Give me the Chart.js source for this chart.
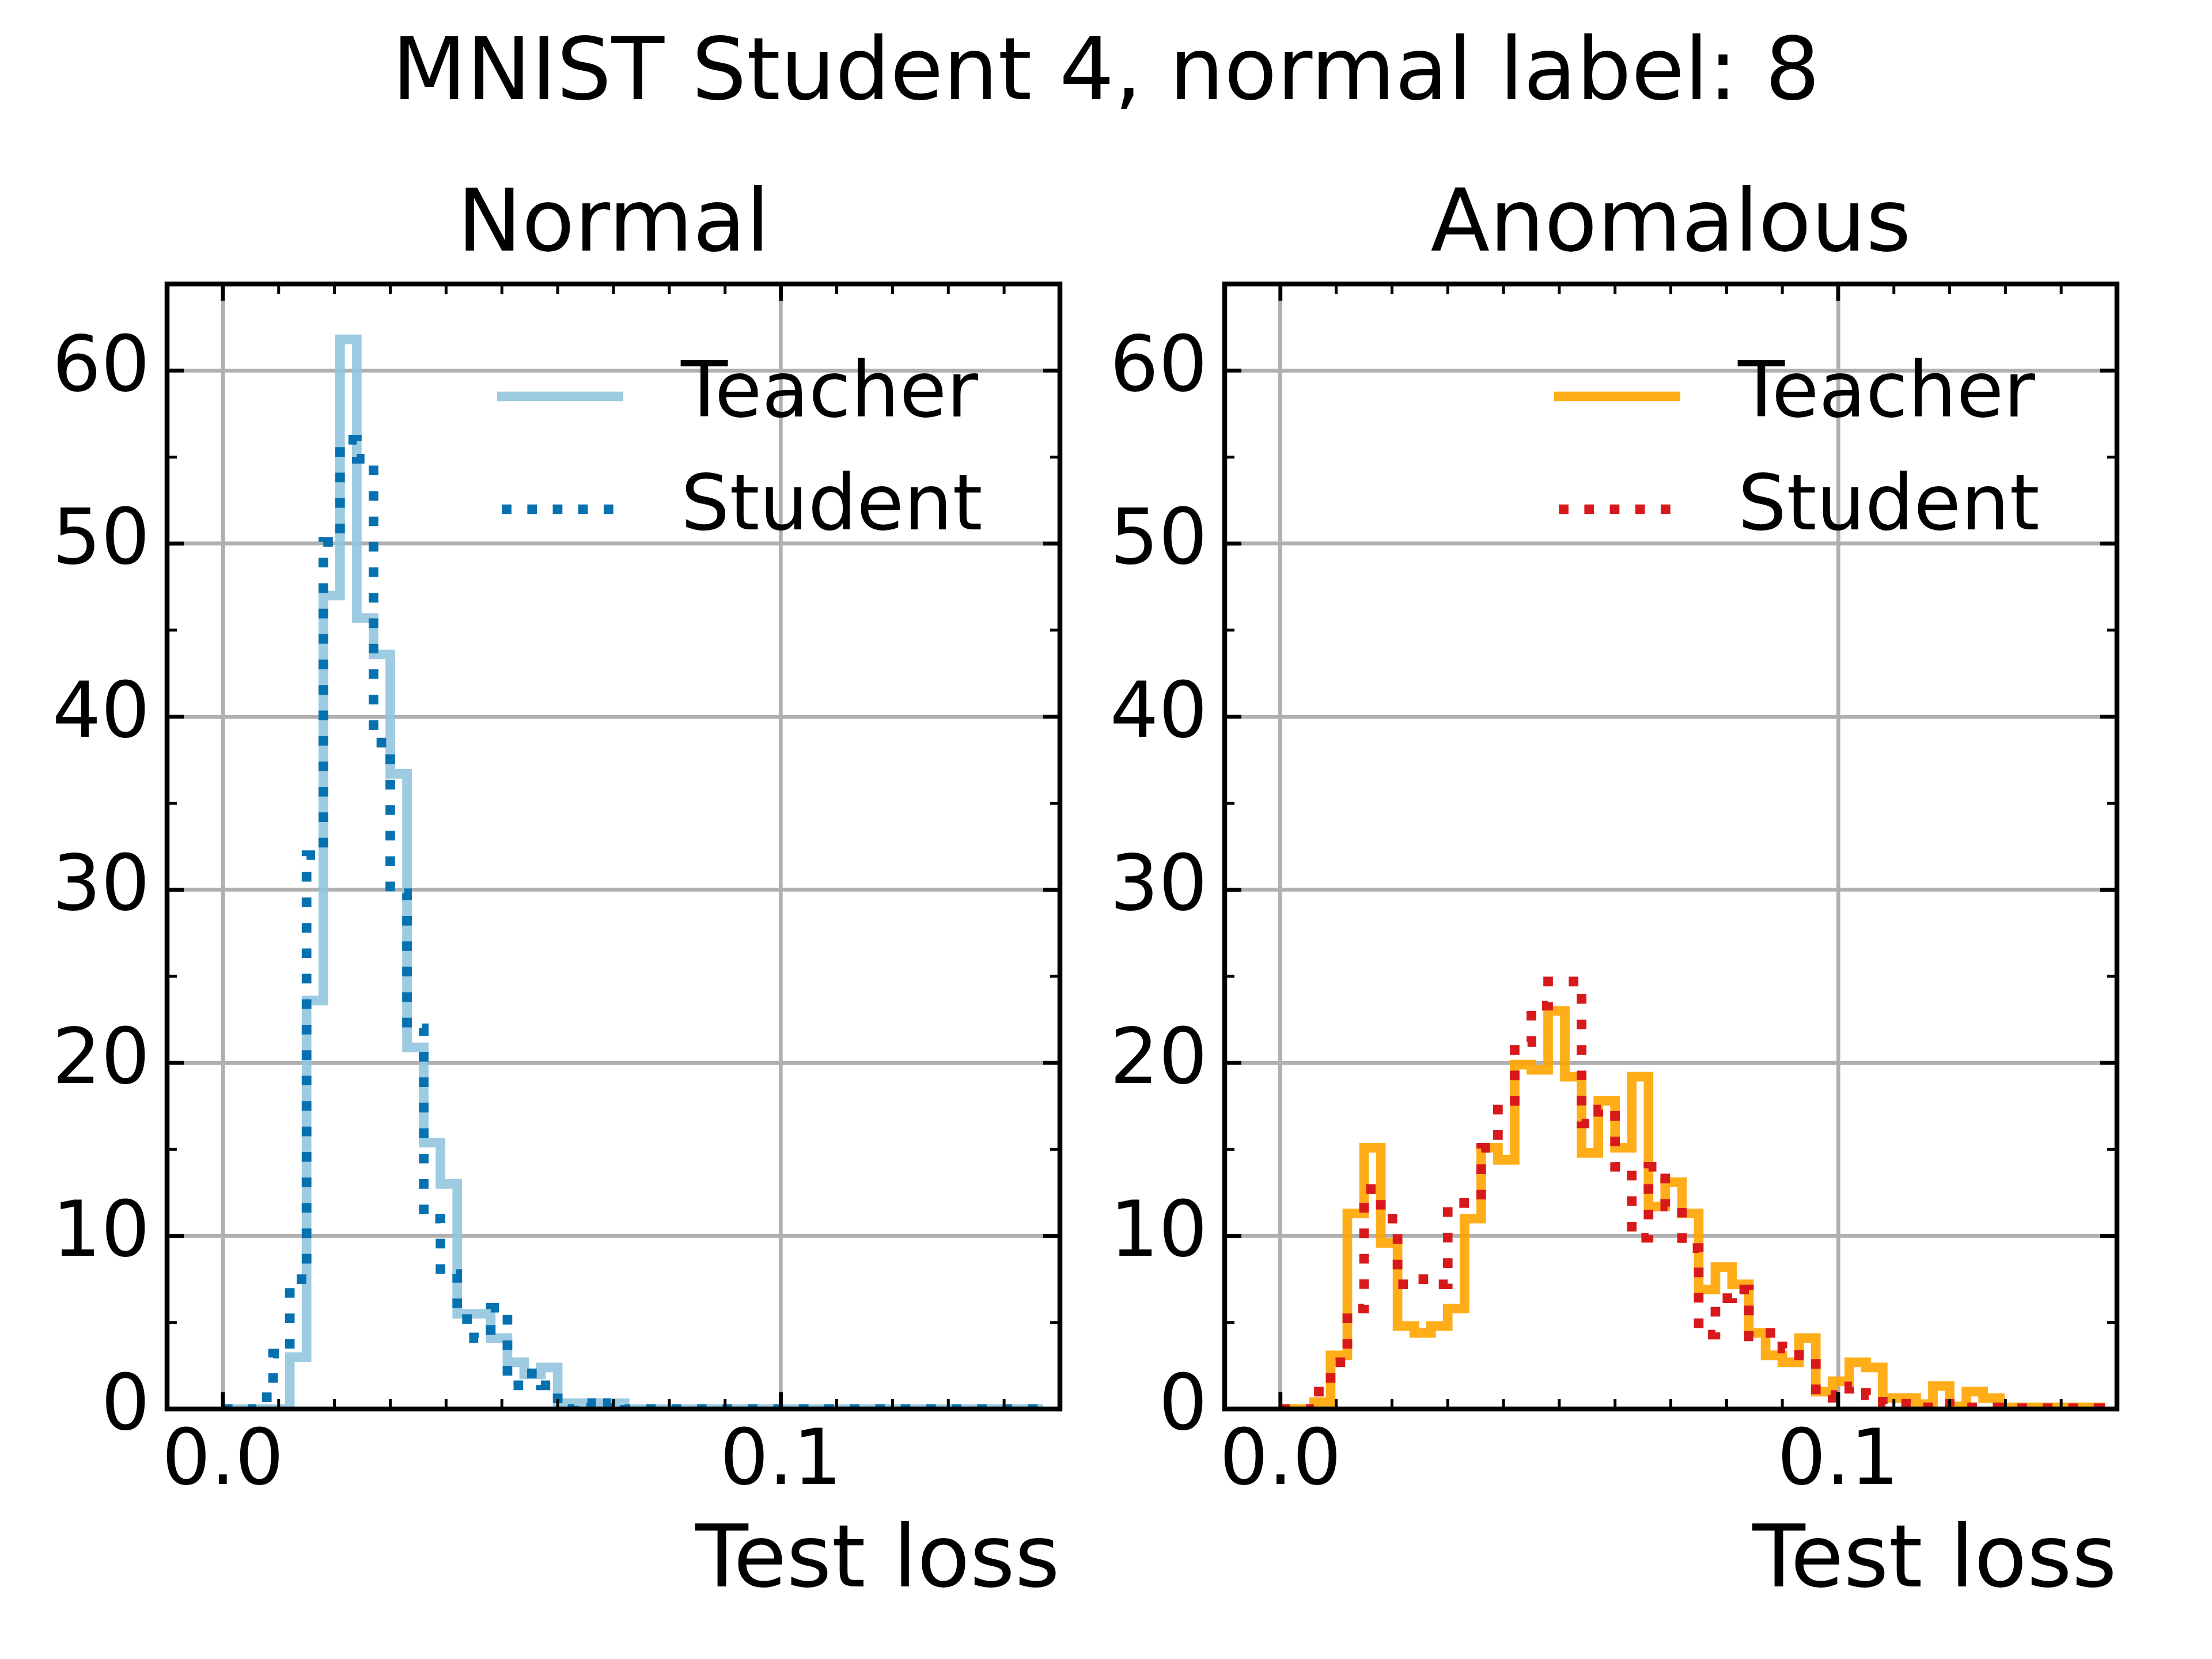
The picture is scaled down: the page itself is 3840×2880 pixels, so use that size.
<!DOCTYPE html>
<html>
<head>
<meta charset="utf-8">
<script src="https://cdn.jsdelivr.net/npm/chart.js@4.4.1/dist/chart.umd.min.js"></script>
<style>
html,body{margin:0;padding:0;background:#fff;}
body{width:3840px;height:2880px;position:relative;overflow:hidden;font-family:'DejaVu Sans',sans-serif;}
#sup{position:absolute;left:0;top:45px;width:3840px;text-align:center;font-size:150px;line-height:150px;color:#000;white-space:nowrap;}
.panel{position:absolute;top:0;width:1920px;height:2880px;}
canvas{display:block;}
</style>
</head>
<body>
<div id="sup"></div>
<div class="panel" style="left:0px"><canvas id="c1" width="1920" height="2880"></canvas></div>
<div class="panel" style="left:1920px"><canvas id="c2" width="1920" height="2880"></canvas></div>
<script>
// ---------------- data ----------------
const SUPTITLE = 'MNIST Student 4, normal label: 8';
const PANEL_TITLES = ['Normal', 'Anomalous'];
const SERIES_LABELS = ['Teacher', 'Student'];
const X_LABEL = 'Test loss';

const BIN_EDGES = [0.000,0.003,0.006,0.009,0.012,0.015,0.018,0.021,0.024,0.027,
                   0.030,0.033,0.036,0.039,0.042,0.045,0.048,0.051,0.054,0.057,
                   0.060,0.063,0.066,0.069,0.072,0.075,0.078,0.081,0.084,0.087,
                   0.090,0.093,0.096,0.099,0.102,0.105,0.108,0.111,0.114,0.117,
                   0.120,0.123,0.126,0.129,0.132,0.135,0.138,0.141,0.144,0.147];

const NORMAL_TEACHER = [0,0,0,0,3.0,23.6,47.0,61.8,45.7,43.6,
                        36.7,20.9,15.4,13.0,5.5,5.5,4.1,2.7,2.0,2.4,
                        0.34,0.34,0.34,0.34,0,0,0,0,0,0,
                        0,0,0,0,0,0,0,0,0,0,
                        0,0,0,0,0,0,0,0,0];
const NORMAL_STUDENT = [0,0,0.68,3.2,7.5,32.0,50.1,56.0,54.9,38.5,
                        29.8,22.0,11.0,7.8,5.2,4.1,5.85,1.37,2.06,1.37,
                        0,0.34,0,0.34,0,0,0,0,0,0,
                        0,0,0,0,0,0,0,0,0,0,
                        0,0,0,0,0,0,0,0,0];
const ANOMALOUS_TEACHER = [0,0,0.4,3.1,11.3,15.1,9.6,4.8,4.4,4.8,
                           5.8,11.0,15.1,14.4,19.9,19.6,23.0,19.2,14.8,17.8,
                           15.1,19.2,11.7,13.1,11.3,6.9,8.2,7.2,4.4,3.1,
                           2.7,4.1,1.0,1.6,2.7,2.4,0.64,0.64,0.28,1.33,
                           0.15,1.0,0.63,0.1,0.1,0.1,0.1,0.1,0.1];
const ANOMALOUS_STUDENT = [0,0,1.0,2.7,5.8,12.7,11.0,7.2,7.5,7.2,
                           11.9,11.9,15.1,17.8,21.2,23.3,24.7,24.7,16.5,17.3,
                           14.0,9.9,14.0,11.7,9.3,4.3,6.4,6.9,4.2,4.4,
                           3.5,3.1,0.8,0.65,1.3,0.8,0.3,0.3,0.1,0.3,
                           0.15,0.1,0.1,0.05,0.05,0.05,0.05,0.05,0.05];

const X_MAJOR_TICKS = [0.0, 0.1];
const X_MINOR_TICKS = [0.01,0.02,0.03,0.04,0.05,0.06,0.07,0.08,0.09,0.11,0.12,0.13,0.14];
const Y_MAJOR_TICKS = [0,10,20,30,40,50,60];
const Y_MINOR_TICKS = [5,15,25,35,45,55];
const X_RANGE = [-0.01, 0.15];
const Y_RANGE = [0, 65];

// ---------------- styling ----------------
const FONT = "'DejaVu Sans'";
const LW = 16.7;
const DOT = [16.7, 27.5];

document.getElementById('sup').textContent = SUPTITLE;

// outline of a step histogram: rise at first edge, flat tops, drop at last edge
function stepPoints(edges, vals) {
  const n = vals.length;
  const pts = [{x: edges[0], y: 0}];
  for (let i = 0; i < n; i++) pts.push({x: edges[i], y: vals[i]});
  pts.push({x: edges[n], y: vals[n - 1]});
  pts.push({x: edges[n], y: 0});
  return pts;
}

const frameTicks = {
  id: 'frameTicks',
  afterDraw(chart) {
    const {ctx, chartArea: a, scales: {x, y}} = chart;
    ctx.save();
    ctx.strokeStyle = '#000';
    ctx.lineCap = 'butt';
    const seg = (x1, y1, x2, y2, w) => { ctx.lineWidth = w; ctx.beginPath(); ctx.moveTo(x1, y1); ctx.lineTo(x2, y2); ctx.stroke(); };
    const drawX = (vals, len, w) => vals.forEach(v => { const p = x.getPixelForValue(v); seg(p, a.bottom, p, a.bottom - len, w); seg(p, a.top, p, a.top + len, w); });
    const drawY = (vals, len, w) => vals.forEach(v => { const p = y.getPixelForValue(v); seg(a.left, p, a.left + len, p, w); seg(a.right, p, a.right - len, p, w); });
    drawX(X_MINOR_TICKS, 17, 5);
    drawY(Y_MINOR_TICKS, 17, 5);
    drawX(X_MAJOR_TICKS, 29, 6.7);
    drawY(Y_MAJOR_TICKS, 29, 6.7);
    ctx.lineWidth = 8.5;
    ctx.lineJoin = 'miter';
    ctx.strokeRect(a.left, a.top, a.right - a.left, a.bottom - a.top);
    ctx.restore();
  }
};

const innerLegend = {
  id: 'innerLegend',
  afterDatasetsDraw(chart, args, opts) {
    const {ctx, chartArea: a} = chart;
    chart.data.datasets.forEach((ds, i) => {
      const yy = a.top + opts.rowY[i];
      ctx.save();
      ctx.strokeStyle = ds.borderColor;
      ctx.lineWidth = ds.borderWidth;
      ctx.lineCap = 'butt';
      if (ds.borderDash && ds.borderDash.length) { ctx.setLineDash(ds.borderDash); ctx.lineDashOffset = 36; }
      ctx.beginPath();
      ctx.moveTo(a.right - 977, yy);
      ctx.lineTo(a.right - 758, yy);
      ctx.stroke();
      ctx.setLineDash([]);
      ctx.fillStyle = '#000';
      ctx.font = '133px ' + FONT;
      ctx.textBaseline = 'middle';
      ctx.textAlign = 'left';
      ctx.fillText(ds.label, a.right - 658, yy);
      ctx.restore();
    });
  }
};

function makeChart(canvasId, title, teacher, student, tColor, sColor, yWidth, padRight) {
  return new Chart(document.getElementById(canvasId), {
    type: 'line',
    data: {
      datasets: [
        {label: SERIES_LABELS[0], data: stepPoints(BIN_EDGES, teacher), borderColor: tColor, borderWidth: LW,
         stepped: 'before', pointRadius: 0, borderJoinStyle: 'miter', borderCapStyle: 'butt', fill: false, clip: 0, order: 1},
        {label: SERIES_LABELS[1], data: stepPoints(BIN_EDGES, student), borderColor: sColor, borderWidth: LW,
         borderDash: DOT, stepped: 'before', pointRadius: 0, borderJoinStyle: 'miter', borderCapStyle: 'butt', fill: false, clip: 0, order: 0}
      ]
    },
    options: {
      responsive: false,
      animation: false,
      devicePixelRatio: 1,
      layout: {padding: {left: 0, right: padRight, top: 0, bottom: 0}},
      plugins: {
        legend: {display: false},
        tooltip: {enabled: false},
        title: {display: true, text: title, color: '#000', fullSize: false,
                font: {size: 150, family: FONT, weight: 'normal', lineHeight: 1},
                padding: {top: 321, bottom: 22}},
        innerLegend: {rowY: [195, 391]}
      },
      scales: {
        x: {
          type: 'linear', min: X_RANGE[0], max: X_RANGE[1],
          afterBuildTicks: s => { s.ticks = X_MAJOR_TICKS.map(v => ({value: v})); },
          afterFit: s => { s.height = 434; },
          ticks: {autoSkip: false, maxRotation: 0, padding: 29, color: '#000',
                  font: {size: 133, family: FONT, lineHeight: 1},
                  callback: v => Number(v).toFixed(1)},
          grid: {color: '#b0b0b0', lineWidth: 6.7, drawTicks: false, tickLength: 0},
          border: {display: false},
          title: {display: true, text: X_LABEL, align: 'end', color: '#000',
                  font: {size: 150, family: FONT, weight: 'normal', lineHeight: 1},
                  padding: {top: 0, bottom: 90}}
        },
        y: {
          type: 'linear', min: Y_RANGE[0], max: Y_RANGE[1],
          afterBuildTicks: s => { s.ticks = Y_MAJOR_TICKS.map(v => ({value: v})); },
          afterFit: s => { s.width = yWidth; },
          ticks: {autoSkip: false, padding: 30, color: '#000',
                  font: {size: 133, family: FONT, lineHeight: 1},
                  callback: v => String(v)},
          grid: {color: '#b0b0b0', lineWidth: 6.7, drawTicks: false, tickLength: 0},
          border: {display: false}
        }
      }
    },
    plugins: [innerLegend, frameTicks]
  });
}

makeChart('c1', PANEL_TITLES[0], NORMAL_TEACHER, NORMAL_STUDENT,
          'rgba(146,197,222,0.9)', '#0571b0', 290, 80);
makeChart('c2', PANEL_TITLES[1], ANOMALOUS_TEACHER, ANOMALOUS_STUDENT,
          'rgba(255,165,0,0.9)', '#d7191c', 206, 165);
</script>
</body>
</html>
